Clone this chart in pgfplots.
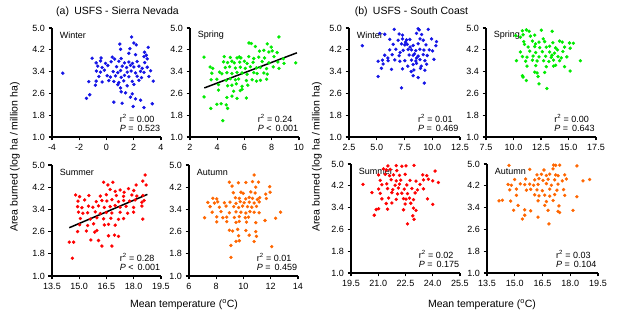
\documentclass[border=0pt]{standalone}
\usepackage{fontspec}
\setmainfont{Liberation Sans}
\usepackage{pgfplots}
\pgfplotsset{compat=1.18}
\definecolor{cblue}{RGB}{20,20,230}
\definecolor{cgreen}{RGB}{0,235,0}
\definecolor{cred}{RGB}{255,0,0}
\definecolor{corange}{RGB}{255,102,0}
\pgfplotsset{
 panel/.style={
  scale only axis, width=109pt, height=109pt,
  axis x line*=bottom, axis y line*=left,
  axis line style={line width=1.6pt,-},
  tick style={line width=1.3pt, black},
  major tick length=3.5pt,
  tick align=outside,
  ymin=1, ymax=5, ytick={1,1.8,2.6,3.4,4.2,5},
  yticklabels={1.0,1.8,2.6,3.4,4.2,5.0},
  /pgf/number format/assume math mode=true,
  ticklabel style={font=\fontsize{9}{10}\selectfont},
  clip=false,
  anchor=south west,
 },
 dec/.style={xticklabel style={/pgf/number format/.cd,fixed,fixed zerofill,precision=1}},
 pts/.style={only marks, mark=*, mark size=1.5pt, color=#1},
}
\newcommand{\lab}[1]{\node[anchor=west,inner sep=0,font=\fontsize{9}{10}\selectfont] at (rel axis cs:0.07,0.93) {#1};}
\newcommand{\stat}[3]{\node[anchor=west,inner sep=0,font=\fontsize{9}{10}\selectfont] at (rel axis cs:0.62,0.17) {r\textsuperscript{2} = #1};
 \node[anchor=west,inner sep=0,font=\fontsize{9}{10}\selectfont] at (rel axis cs:0.62,0.075) {\textit{P} #2\hspace{0.45em}#3};}
\begin{document}
\begin{tikzpicture}
\path[use as bounding box] (0,0) rectangle (622pt,323pt);
\node[font=\fontsize{10.5}{12}\selectfont] at (117.5pt,311pt) {(a)\enspace USFS - Sierra Nevada};
\node[font=\fontsize{10.5}{12}\selectfont] at (411.5pt,311pt) {(b)\enspace USFS - South Coast};
\node[font=\fontsize{10.5}{12}\selectfont] at (184pt,18pt) {Mean temperature (\textsuperscript{o}C)};
\node[font=\fontsize{10.5}{12}\selectfont] at (482pt,18pt) {Mean temperature (\textsuperscript{o}C)};
\node[font=\fontsize{10.5}{12}\selectfont,rotate=90] at (15pt,166pt) {Area burned (log ha / million ha)};
\node[font=\fontsize{10.5}{12}\selectfont,rotate=90] at (317pt,166pt) {Area burned (log ha / million ha)};

% (a) Winter
\begin{axis}[panel, at={(52pt,186pt)}, xmin=-4, xmax=4, xtick={-4,-2,0,2,4}]
\addplot[pts=cblue] coordinates {
(-3.21,3.34) (1.84,4.67) (0.98,4.41) (2.01,4.45) (2.18,4.38) (3.06,4.29) (1.03,4.22) (1.72,4.24) (1.64,4.07) (2.13,4.02) (2.79,4.11) (2.92,4.0) (-1.05,3.89) (0.42,3.93) (1.08,3.88) (2.75,3.95) (2.99,3.87) (-0.76,3.72) (-0.44,3.79) (-0.07,3.7) (0.34,3.76) (0.91,3.78) (1.32,3.72) (1.64,3.75) (1.91,3.7) (2.25,3.77) (2.8,3.73) (-0.64,3.6) (-0.32,3.55) (0.1,3.62) (0.74,3.58) (1.15,3.6) (1.47,3.55) (1.76,3.63) (2.01,3.57) (2.38,3.6) (2.62,3.52) (2.99,3.56) (-0.74,3.42) (-0.44,3.38) (-0.15,3.45) (0.49,3.4) (0.83,3.36) (1.03,3.44) (1.52,3.38) (1.81,3.42) (2.13,3.35) (2.5,3.41) (2.75,3.37) (3.24,3.43) (-0.56,3.22) (0.05,3.25) (0.29,3.2) (0.66,3.24) (1.08,3.19) (1.32,3.26) (1.64,3.21) (2.25,3.23) (2.57,3.18) (3.11,3.22) (-1.3,3.03) (-0.76,3.05) (-0.32,3.02) (0.17,3.07) (0.54,3.04) (0.91,3.0) (1.27,3.06) (1.89,3.04) (2.38,3.08) (3.43,3.05) (-1.23,2.55) (-0.81,2.9) (0.83,2.92) (1.03,2.8) (1.52,2.88) (2.01,2.93) (1.08,2.66) (1.4,2.62) (1.89,2.58) (-1.47,2.42) (1.76,2.46) (2.13,2.4) (2.5,2.35) (0.54,2.28) (1.15,2.24) (1.96,2.12) (2.75,2.08) (3.36,2.22) (-0.4,3.9) (0.6,3.86)
};
\lab{Winter}
\stat{0.00}{=}{0.523}
\end{axis}

% (a) Spring
\begin{axis}[panel, at={(190pt,186pt)}, xmin=2, xmax=10, xtick={2,4,6,8,10}]
\addplot[pts=cgreen] coordinates {
(8.53,4.67) (6.33,4.45) (6.5,4.43) (7.67,4.42) (6.8,4.32) (7.96,4.3) (7.1,4.15) (7.42,4.18) (7.79,4.12) (8.03,4.16) (8.4,4.1) (3.03,3.93) (4.51,3.95) (4.96,3.92) (5.45,3.9) (5.62,3.94) (5.74,3.9) (6.31,3.95) (6.68,3.88) (7.05,3.93) (7.47,3.9) (8.16,3.95) (8.85,3.87) (4.46,3.76) (4.76,3.73) (5.08,3.78) (5.25,3.72) (5.65,3.75) (5.99,3.78) (6.19,3.7) (6.63,3.74) (7.3,3.77) (7.79,3.72) (8.45,3.75) (8.9,3.7) (9.76,3.72) (3.48,3.57) (3.67,3.52) (4.59,3.55) (4.91,3.58) (5.33,3.53) (5.69,3.56) (6.06,3.52) (6.43,3.58) (6.88,3.54) (7.17,3.55) (7.62,3.51) (8.11,3.57) (8.53,3.52) (3.6,3.34) (4.17,3.38) (4.34,3.32) (4.71,3.36) (5.08,3.33) (5.45,3.37) (5.82,3.35) (6.19,3.3) (6.68,3.36) (6.93,3.33) (7.42,3.35) (7.67,3.31) (3.55,3.1) (3.97,3.12) (4.66,3.08) (4.96,3.14) (5.33,3.1) (5.57,3.13) (6.14,3.07) (6.56,3.1) (6.88,3.05) (7.17,3.08) (7.62,3.12) (4.09,2.92) (4.76,2.88) (5.08,2.9) (5.4,2.95) (5.82,2.86) (6.24,2.9) (4.09,2.72) (5.2,2.68) (5.69,2.7) (5.82,2.75) (3.03,2.47) (4.71,2.45) (5.08,2.5) (5.45,2.42) (6.14,2.43) (3.97,2.2) (4.29,2.22) (4.66,2.18) (3.53,2.05) (4.76,2.05) (4.41,1.6)
};
\addplot[black, line width=1.5pt] coordinates {(3.05,2.80) (9.85,4.09)};
\lab{Spring}
\stat{0.24}{<}{0.001}
\end{axis}

% (a) Summer
\begin{axis}[panel, dec, at={(52pt,47pt)}, height=111pt, xmin=13.5, xmax=19.5, xtick={13.5,15,16.5,18,19.5}]
\addplot[pts=cred] coordinates {
(18.63,4.64) (18.5,4.42) (16.34,4.38) (16.85,4.38) (16.58,4.28) (18.13,4.28) (18.68,4.28) (16.7,4.12) (17.25,4.1) (17.71,4.15) (18.0,4.08) (17.47,4.02) (16.98,4.05) (14.8,3.92) (15.02,3.86) (15.53,3.9) (16.16,3.88) (16.49,3.93) (17.04,3.9) (17.44,3.87) (17.9,3.92) (18.17,3.88) (18.5,3.9) (14.93,3.7) (15.3,3.74) (15.94,3.68) (16.25,3.72) (16.52,3.7) (16.8,3.75) (17.16,3.68) (17.44,3.72) (17.77,3.7) (18.08,3.74) (18.45,3.66) (18.57,3.72) (14.91,3.5) (15.15,3.46) (15.51,3.52) (15.75,3.48) (16.06,3.53) (16.38,3.47) (16.7,3.5) (16.98,3.54) (17.25,3.48) (17.58,3.51) (17.99,3.47) (18.45,3.52) (14.96,3.3) (15.2,3.26) (15.46,3.28) (15.88,3.31) (16.16,3.25) (16.49,3.29) (16.8,3.27) (17.25,3.3) (17.66,3.26) (17.99,3.3) (15.06,3.07) (15.61,3.05) (15.97,3.1) (16.34,3.06) (16.74,3.08) (17.16,3.04) (17.44,3.07) (18.5,3.05) (15.02,2.85) (15.46,2.82) (15.79,2.88) (16.38,2.84) (16.61,2.86) (16.98,2.83) (14.91,2.6) (15.39,2.62) (15.85,2.58) (15.97,2.64) (16.61,2.45) (16.94,2.47) (17.16,2.43) (15.64,2.3) (16.06,2.28) (14.45,2.22) (14.69,2.22) (16.25,2.08) (16.8,2.08) (14.62,1.64)
};
\addplot[black, line width=1.5pt] coordinates {(14.45,2.74) (18.75,3.94)};
\lab{Summer}
\stat{0.28}{<}{0.001}
\end{axis}

% (a) Autumn
\begin{axis}[panel, at={(189pt,47pt)}, height=111pt, xmin=6, xmax=14, xtick={6,8,10,12,14}]
\addplot[pts=corange] coordinates {
(10.78,4.64) (8.96,4.38) (9.62,4.36) (10.17,4.37) (10.66,4.4) (11.1,4.38) (11.92,4.22) (9.16,4.24) (10.9,4.2) (9.25,4.0) (9.81,4.02) (9.98,3.98) (10.54,4.03) (10.85,3.99) (11.63,3.95) (11.95,4.02) (7.75,3.8) (8.04,3.78) (9.4,3.82) (9.69,3.8) (10.17,3.78) (10.42,3.83) (10.66,3.8) (11.02,3.76) (11.19,3.82) (11.68,3.79) (7.38,3.65) (7.87,3.63) (8.11,3.67) (8.6,3.64) (9.01,3.66) (9.45,3.62) (9.76,3.68) (10.05,3.64) (10.42,3.66) (10.78,3.63) (11.15,3.67) (7.55,3.5) (8.23,3.48) (8.72,3.52) (9.28,3.5) (9.64,3.47) (9.93,3.52) (10.3,3.5) (10.61,3.48) (10.95,3.51) (7.7,3.3) (8.35,3.32) (8.96,3.28) (9.45,3.31) (9.81,3.3) (10.17,3.27) (10.47,3.32) (10.78,3.3) (11.15,3.28) (12.72,3.3) (7.14,3.1) (8.04,3.13) (8.48,3.1) (8.77,3.12) (9.33,3.11) (9.69,3.14) (10.13,3.1) (10.37,3.12) (11.58,3.0) (12.36,3.08) (8.04,2.95) (8.77,2.96) (9.45,2.93) (9.69,2.97) (10.22,2.94) (10.9,2.92) (8.96,2.65) (9.2,2.62) (9.57,2.68) (10.17,2.64) (10.9,2.6) (9.64,2.45) (10.42,2.47) (10.95,2.43) (9.45,2.25) (9.69,2.27) (10.78,2.24) (9.08,2.1) (12.07,2.06) (9.08,1.67)
};
\lab{Autumn}
\stat{0.01}{=}{0.459}
\end{axis}

% (b) Winter
\begin{axis}[panel, dec, at={(349pt,186pt)}, width=111pt, xmin=2.5, xmax=12.5, xtick={2.5,5,7.5,10,12.5}]
\addplot[pts=cblue] coordinates {
(6.57,4.95) (8.73,4.97) (8.82,4.93) (9.64,4.95) (5.27,4.8) (5.72,4.77) (7.02,4.78) (7.32,4.74) (8.58,4.8) (9.04,4.76) (6.17,4.58) (6.93,4.55) (7.32,4.6) (7.68,4.56) (7.98,4.58) (9.19,4.55) (9.94,4.6) (10.39,4.5) (3.7,4.35) (6.48,4.4) (7.23,4.42) (7.53,4.38) (7.74,4.4) (8.28,4.36) (8.73,4.42) (9.43,4.38) (10.33,4.35) (6.17,4.2) (6.72,4.22) (7.38,4.18) (7.83,4.21) (8.13,4.2) (8.52,4.17) (8.89,4.22) (9.25,4.19) (9.73,4.2) (10.03,4.16) (5.72,4.0) (6.39,4.02) (7.02,3.98) (7.92,4.01) (8.28,4.0) (8.73,3.97) (9.19,4.02) (9.55,3.99) (5.12,3.78) (5.51,3.82) (6.02,3.8) (6.63,3.83) (7.08,3.78) (7.53,3.8) (8.13,3.82) (8.52,3.79) (8.89,3.84) (9.34,3.8) (10.15,3.85) (5.57,3.68) (8.28,3.66) (8.58,3.7) (9.49,3.67) (5.42,3.52) (6.33,3.48) (7.32,3.5) (8.34,3.46) (8.94,3.52) (9.34,3.45) (5.12,3.22) (8.28,3.25) (8.73,3.18) (9.28,2.98) (7.23,2.8) (7.6,4.48) (8.0,4.3) (8.4,4.05) (8.6,3.9) (7.8,3.6) (9.0,3.6) (8.1,3.4) (6.0,3.9) (8.9,4.6) (7.1,4.1)
};
\lab{Winter}
\stat{0.01}{=}{0.469}
\end{axis}

% (b) Spring
\begin{axis}[panel, dec, at={(486pt,186pt)}, width=110pt, xmin=7.5, xmax=17.5, xtick={7.5,10,12.5,15,17.5}]
\addplot[pts=cgreen] coordinates {
(10.81,4.9) (11.17,4.93) (11.42,4.88) (12.53,4.92) (13.52,4.88) (10.21,4.72) (10.87,4.75) (11.54,4.7) (11.93,4.74) (10.63,4.66) (10.93,4.5) (11.72,4.52) (12.32,4.48) (12.83,4.5) (13.58,4.46) (14.19,4.52) (14.43,4.48) (15.09,4.45) (15.45,4.44) (11.33,4.3) (11.93,4.32) (12.38,4.28) (12.98,4.3) (13.28,4.33) (13.83,4.27) (14.64,4.3) (15.15,4.26) (10.63,4.12) (11.48,4.15) (12.02,4.1) (12.62,4.13) (13.28,4.12) (13.73,4.08) (14.49,4.14) (10.81,3.95) (11.23,3.93) (11.78,3.97) (12.32,3.94) (12.92,3.96) (13.43,3.92) (14.04,3.95) (14.34,3.9) (14.85,3.94) (10.27,3.8) (11.11,3.78) (11.72,3.82) (12.14,3.79) (12.74,3.8) (13.22,3.77) (13.64,3.82) (14.19,3.8) (16.08,3.8) (11.23,3.6) (12.02,3.62) (12.98,3.58) (13.64,3.6) (13.83,3.63) (14.64,3.58) (11.93,3.38) (12.14,3.35) (12.83,3.37) (15.15,3.42) (10.81,3.25) (10.87,3.2) (12.23,3.22) (11.17,3.07) (12.32,2.95) (13.04,2.78) (11.0,4.4) (12.7,4.6) (13.5,4.0) (14.0,4.2) (12.0,4.42)
};
\lab{Spring}
\stat{0.00}{=}{0.643}
\end{axis}

% (b) Summer
\begin{axis}[panel, dec, at={(351pt,50pt)}, xmin=19.5, xmax=25.5, xtick={19.5,21,22.5,24,25.5}]
\addplot[pts=cred] coordinates {
(21.53,4.93) (21.99,4.94) (22.3,4.92) (22.53,4.93) (22.97,4.95) (21.29,4.82) (21.44,4.78) (21.66,4.8) (22.02,4.76) (24.13,4.74) (21.02,4.6) (21.38,4.62) (21.62,4.57) (21.84,4.6) (22.17,4.58) (22.48,4.62) (23.45,4.6) (23.67,4.57) (21.11,4.4) (21.71,4.42) (21.99,4.38) (22.24,4.41) (22.75,4.4) (23.08,4.37) (23.49,4.42) (23.76,4.44) (24.0,4.38) (24.31,4.32) (20.16,4.25) (21.2,4.24) (21.47,4.27) (21.93,4.22) (22.17,4.26) (22.57,4.23) (23.3,4.25) (21.02,4.08) (21.51,4.1) (21.8,4.06) (22.11,4.12) (22.43,4.08) (22.85,4.1) (23.16,4.05) (23.49,4.09) (20.65,3.95) (21.11,3.92) (21.75,3.95) (22.06,3.9) (22.3,3.93) (22.61,3.91) (23.03,3.94) (21.2,3.72) (21.57,3.75) (21.99,3.7) (22.39,3.73) (22.53,3.71) (22.72,3.75) (22.94,3.69) (23.71,3.72) (21.44,3.55) (21.75,3.57) (22.48,3.53) (22.79,3.56) (24.0,3.52) (20.89,3.33) (21.02,3.36) (21.51,3.34) (22.39,3.32) (22.94,3.38) (23.08,3.3) (20.78,3.12) (22.9,3.1) (22.97,2.97) (22.61,2.8)
};
\lab{Summer}
\stat{0.02}{=}{0.175}
\end{axis}

% (b) Autumn
\begin{axis}[panel, dec, at={(487pt,50pt)}, width=111pt, xmin=13.5, xmax=19.5, xtick={13.5,15,16.5,18,19.5}]
\addplot[pts=corange] coordinates {
(14.69,4.95) (17.1,4.96) (17.21,4.95) (17.43,4.96) (18.36,4.93) (15.81,4.8) (16.58,4.78) (17.07,4.82) (16.2,4.6) (16.44,4.62) (16.71,4.58) (16.89,4.63) (17.21,4.6) (17.34,4.57) (17.7,4.6) (14.99,4.43) (15.59,4.45) (16.08,4.42) (16.31,4.46) (16.53,4.4) (16.8,4.44) (17.16,4.42) (17.57,4.38) (17.79,4.45) (18.69,4.38) (19.05,4.43) (14.64,4.25) (14.82,4.22) (15.3,4.27) (15.54,4.24) (15.81,4.26) (16.02,4.22) (16.26,4.25) (16.71,4.28) (16.98,4.22) (17.34,4.26) (14.73,4.05) (15.09,4.08) (15.63,4.04) (15.86,4.07) (16.2,4.05) (16.49,4.02) (16.89,4.08) (17.28,4.04) (17.64,4.06) (15.09,3.85) (16.08,3.87) (16.31,3.83) (16.62,3.86) (16.89,3.82) (17.16,3.88) (17.7,3.85) (18.36,3.8) (14.15,3.65) (14.33,3.67) (14.78,3.64) (16.26,3.65) (16.71,3.62) (17.07,3.66) (15.18,3.48) (16.62,3.48) (17.39,3.46) (14.94,3.3) (15.54,3.32) (15.86,3.28) (16.8,3.3) (17.34,3.26) (17.43,3.22) (18.15,3.3) (15.54,3.12) (15.41,2.98) (16.26,3.05) (16.85,2.8)
};
\lab{Autumn}
\stat{0.03}{=}{0.104}
\end{axis}
\end{tikzpicture}
\end{document}
